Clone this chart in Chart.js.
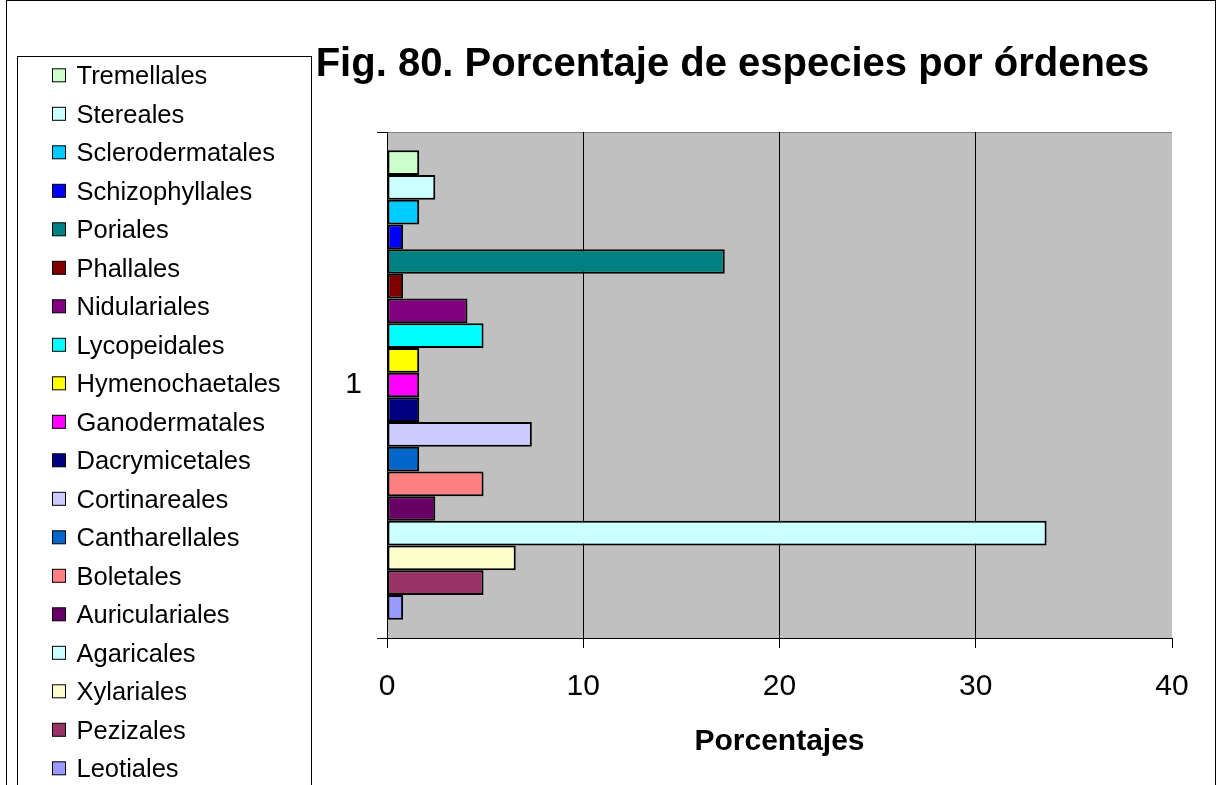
<!DOCTYPE html>
<html>
<head>
<meta charset="utf-8">
<script src="https://cdn.jsdelivr.net/npm/chart.js@4/dist/chart.umd.min.js"></script>
<style>
  html, body { margin: 0; padding: 0; background: #fff; }
  #wrap { width: 1218px; height: 785px; position: relative; }
</style>
</head>
<body>
<div id="wrap"><canvas id="myChart" width="1218" height="785"></canvas></div>
<script>
const categories = ['1'];

// orders, listed top to bottom as in the legend
const orders = ['Tremellales', 'Stereales', 'Sclerodermatales', 'Schizophyllales', 'Poriales',
    'Phallales', 'Nidulariales', 'Lycopeidales', 'Hymenochaetales', 'Ganodermatales',
    'Dacrymicetales', 'Cortinareales', 'Cantharellales', 'Boletales', 'Auriculariales',
    'Agaricales', 'Xylariales', 'Pezizales', 'Leotiales'];

const percentages = [1.64, 2.46, 1.64, 0.82, 17.21,
    0.82, 4.10, 4.92, 1.64, 1.64,
    1.64, 7.38, 1.64, 4.92, 2.46,
    33.61, 6.56, 4.92, 0.82];

const colors = ['#CCFFCC', '#CCFFFF', '#00CCFF', '#0000FF', '#008080',
    '#800000', '#800080', '#00FFFF', '#FFFF00', '#FF00FF',
    '#000080', '#CCCCFF', '#0066CC', '#FF8080', '#660066',
    '#CCFFFF', '#FFFFCC', '#993366', '#9999FF'];

const xTicks = [0, 10, 20, 30, 40];

const FONT = '"Liberation Sans", Arial, sans-serif';

var datasets = [];
for (var i = 0; i < orders.length; i++) {
    datasets.push({
        label: orders[i],
        data: [percentages[i]],
        backgroundColor: colors[i],
        borderColor: '#000',
        borderWidth: 2,
        borderSkipped: false,
        categoryPercentage: 0.9275,
        barPercentage: 1
    });
}

// gray plot area, frames, title and legend
const decor = {
    id: 'decor',
    beforeDraw(chart) {
        const c = chart.ctx;
        const a = chart.chartArea;
        c.save();
        c.fillStyle = '#C0C0C0';
        c.fillRect(a.left, a.top, a.right - a.left, a.bottom - a.top);
        c.strokeStyle = '#808080';
        c.lineWidth = 1;
        c.beginPath();
        c.moveTo(a.left, Math.round(a.top) + 0.5);
        c.lineTo(a.right, Math.round(a.top) + 0.5);
        c.stroke();
        c.restore();
    },
    afterDraw(chart) {
        const c = chart.ctx;
        c.save();
        // outer frame
        c.strokeStyle = '#000';
        c.lineWidth = 1;
        c.strokeRect(6.5, 0.5, 1209, 820);

        // title
        c.fillStyle = '#000';
        c.font = 'bold 40px ' + FONT;
        c.textAlign = 'center';
        c.textBaseline = 'alphabetic';
        c.fillText('Fig. 80. Porcentaje de especies por órdenes', 732.5, 76);

        // legend box
        c.strokeRect(17.5, 56.5, 294, 800);
        c.font = '25.5px ' + FONT;
        c.textAlign = 'left';
        const ds = chart.data.datasets;
        for (var i = 0; i < ds.length; i++) {
            var base = 84.3 + i * 38.5;
            c.fillStyle = ds[i].backgroundColor;
            c.fillRect(52.5, base - 15.5, 13, 13);
            c.strokeStyle = '#000';
            c.strokeRect(52.5, base - 15.5, 13, 13);
            c.fillStyle = '#000';
            c.fillText(ds[i].label, 76.5, base);
        }
        c.restore();
    }
};

new Chart(document.getElementById('myChart'), {
    type: 'bar',
    data: {
        labels: categories,
        datasets: datasets
    },
    plugins: [decor],
    options: {
        indexAxis: 'y',
        responsive: false,
        animation: false,
        events: [],
        layout: {
            padding: { top: 132, right: 46, left: 0, bottom: 0 }
        },
        plugins: {
            legend: { display: false },
            title: { display: false },
            tooltip: { enabled: false }
        },
        scales: {
            x: {
                min: 0,
                max: 40,
                afterFit: function (scale) { scale.height = 147; },
                afterBuildTicks: function (scale) {
                    scale.ticks = xTicks.map(function (v) { return { value: v }; });
                },
                ticks: {
                    color: '#000',
                    padding: 21,
                    maxRotation: 0,
                    font: { family: FONT, size: 30 }
                },
                grid: {
                    color: function (ctx) {
                        var v = ctx.tick ? ctx.tick.value : 0;
                        return (v > 0 && v < 40) ? '#000' : 'rgba(0,0,0,0)';
                    },
                    tickColor: '#000',
                    tickLength: 10,
                    lineWidth: 1
                },
                border: { display: true, color: '#000', width: 1 },
                title: {
                    display: true,
                    text: 'Porcentajes',
                    color: '#000',
                    font: { family: FONT, size: 30, weight: 'bold' },
                    padding: { top: 0, bottom: 25 }
                }
            },
            y: {
                afterFit: function (scale) { scale.width = 387; },
                ticks: {
                    color: '#000',
                    padding: 15,
                    font: { family: FONT, size: 30 }
                },
                grid: {
                    drawOnChartArea: false,
                    offset: true,
                    tickColor: '#000',
                    tickLength: 10
                },
                border: { display: true, color: '#000', width: 1 }
            }
        }
    }
});
</script>
</body>
</html>
